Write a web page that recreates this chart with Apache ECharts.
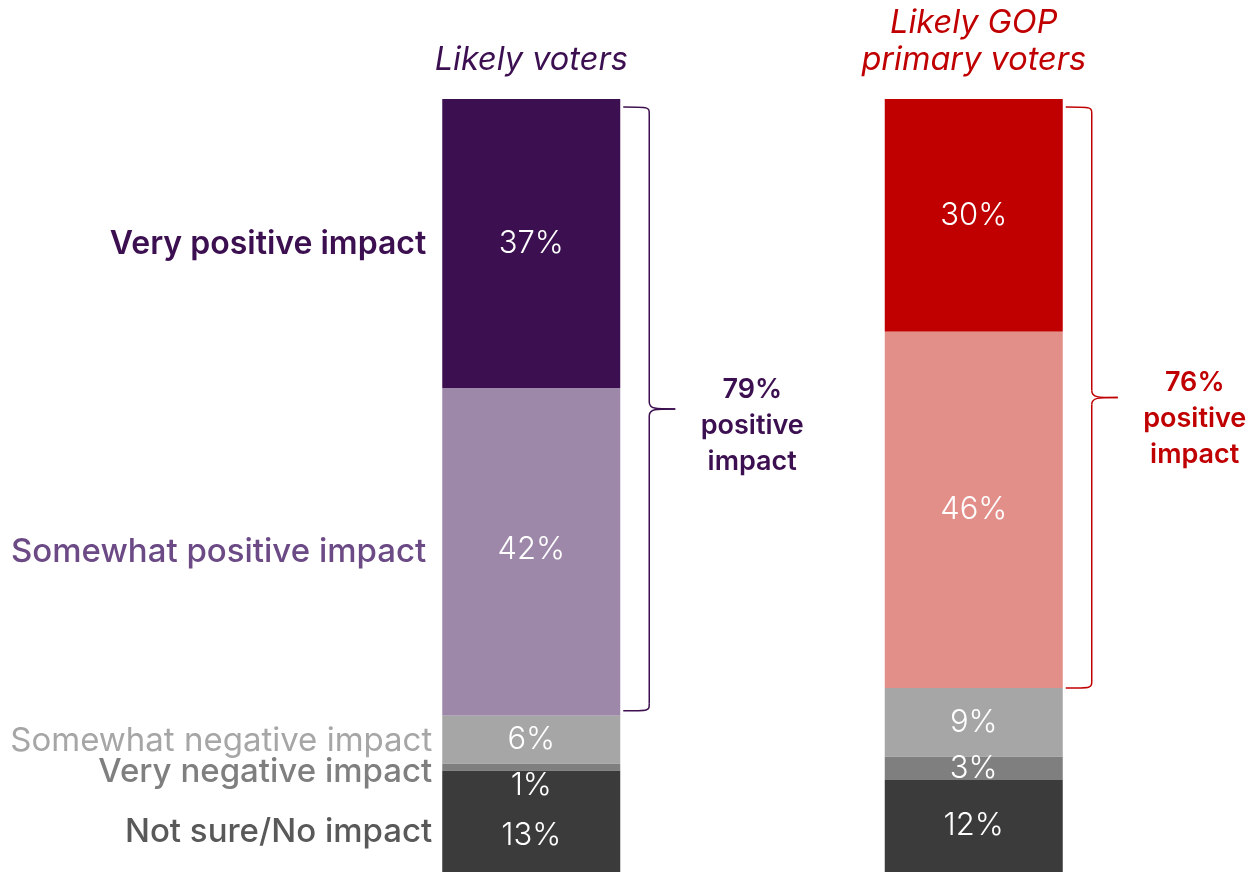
<!DOCTYPE html>
<html>
<head>
<meta charset="utf-8">
<script src="https://cdn.jsdelivr.net/npm/echarts@6/dist/echarts.min.js"></script>
<style>
html,body{margin:0;padding:0;background:#fff;}
#main{width:1253px;height:872px;}
</style>
</head>
<body>
<div id="main"></div>
<script>
// ---- data ----
const categories = ['Likely voters', 'Likely GOP primary voters'];
const categoryTitles = ['Likely voters', 'Likely GOP\nprimary voters'];
const seriesNames = ['Very positive impact', 'Somewhat positive impact', 'Somewhat negative impact', 'Very negative impact', 'Not sure/No impact'];
const veryPositive = [37.4, 30.1];
const somewhatPositive = [42.4, 46.1];
const somewhatNegative = [6.2, 8.9];
const veryNegative = [0.9, 3.0];
const notSure = [13.1, 11.9];
const positiveTotals = [79, 76];
const positiveText = ['positive', 'impact'];

// ---- styles ----
const FONT = 'Inter';
const seriesValues = [veryPositive, somewhatPositive, somewhatNegative, veryNegative, notSure];
const barColors = [
  ['#3c0f50', '#c00000'],
  ['#9e88aa', '#e28e89'],
  ['#a6a6a6', '#a6a6a6'],
  ['#7f7f7f', '#7f7f7f'],
  ['#3b3b3b', '#3b3b3b']
];
const nameColors = ['#3c0f50', '#6b4a85', '#a6a6a6', '#7f7f7f', '#595959'];
const nameWeights = [600, 500, 400, 500, 500];
const nameSizes = [32, 33, 33, 33, 33];
const nameGap = [16, 16, 10, 10, 10];
const nameDy = [1, 0, 1, 5, 11];
const valueLabelDy = [[0, 0], [0, -2], [0, 0], [0, 18], [0, 14]];
const titleColors = ['#3c0f50', '#c00000'];
const accent = ['#3c0f50', '#c00000'];
const braceBottomInset = [5, 0];
const totalDy = [17, 21];

const chart = echarts.init(document.getElementById('main'));

const series = seriesNames.map((name, k) => ({
  name: name,
  type: 'bar',
  stack: 'total',
  barWidth: 178,
  data: seriesValues[k].map((v, i) => ({
    value: v,
    itemStyle: { color: barColors[k][i] },
    label: { offset: i === 0 ? valueLabelDy[k] : [0, 0] }
  })),
  label: {
    show: true,
    position: 'inside',
    formatter: p => Math.round(p.value) + '%',
    color: '#ffffff',
    fontFamily: FONT,
    fontWeight: 300,
    fontSize: 31
  },
  emphasis: { disabled: true }
}));

chart.setOption({
  animation: false,
  grid: { left: 310, width: 885, top: 99, bottom: 0, containLabel: false },
  xAxis: {
    type: 'category',
    data: categories,
    position: 'top',
    axisLine: { show: false },
    axisTick: { show: false },
    axisLabel: {
      interval: 0,
      margin: 20,
      fontFamily: FONT,
      fontStyle: 'italic',
      fontSize: 32.5,
      lineHeight: 37,
      formatter: (v, i) => categoryTitles[i],
      color: (v, i) => titleColors[i]
    }
  },
  yAxis: {
    type: 'value',
    min: 0,
    max: 100,
    inverse: true,
    show: false,
    splitLine: { show: false }
  },
  series: series
});

// ---- annotations computed from the axes ----
const graphics = [];
function px(catIdx, val) {
  return chart.convertToPixel({ gridIndex: 0 }, [categories[catIdx], val]);
}
const halfBar = 89;

// left-side series names, next to the first bar
let cum = 0;
seriesNames.forEach((name, k) => {
  const v = seriesValues[k][0];
  const p = px(0, cum + v / 2);
  cum += v;
  graphics.push({
    type: 'text',
    x: p[0] - halfBar - nameGap[k],
    y: p[1] + nameDy[k],
    style: {
      text: name,
      fill: nameColors[k],
      font: nameWeights[k] + ' ' + nameSizes[k] + 'px ' + FONT,
      align: 'right',
      verticalAlign: 'middle'
    },
    silent: true
  });
});

// braces + totals
categories.forEach((c, i) => {
  const top = px(i, 0);
  const bot = px(i, veryPositive[i] + somewhatPositive[i]);
  const right = top[0] + halfBar;
  const x0 = right + 3, xv = right + 29, xt = right + 55;
  const yt = top[1] + 8, yb = bot[1] - braceBottomInset[i];
  const ym = (yt + yb) / 2;
  const r = 7;
  const ls = { stroke: accent[i], lineWidth: 1.5, fill: null };
  const curves = [
    [x0, yt, xv, yt + r, xv, yt, xv, yt],
    [xv, ym - r, xt, ym, xv, ym, xv + 6, ym],
    [xt, ym, xv, ym + r, xv + 6, ym, xv, ym],
    [xv, yb - r, x0, yb, xv, yb, xv, yb]
  ];
  curves.forEach(cv => graphics.push({
    type: 'bezierCurve',
    shape: { x1: cv[0], y1: cv[1], x2: cv[2], y2: cv[3], cpx1: cv[4], cpy1: cv[5], cpx2: cv[6], cpy2: cv[7] },
    style: ls,
    silent: true
  }));
  graphics.push({ type: 'line', shape: { x1: xv, y1: yt + r, x2: xv, y2: ym - r }, style: ls, silent: true });
  graphics.push({ type: 'line', shape: { x1: xv, y1: ym + r, x2: xv, y2: yb - r }, style: ls, silent: true });
  graphics.push({
    type: 'text',
    x: xt + 77,
    y: ym + totalDy[i],
    style: {
      text: positiveTotals[i] + '%\n' + positiveText.join('\n'),
      fill: accent[i],
      font: '600 27px ' + FONT,
      lineHeight: 36,
      align: 'center',
      verticalAlign: 'middle'
    },
    silent: true
  });
});

chart.setOption({ graphic: graphics });
</script>
</body>
</html>
